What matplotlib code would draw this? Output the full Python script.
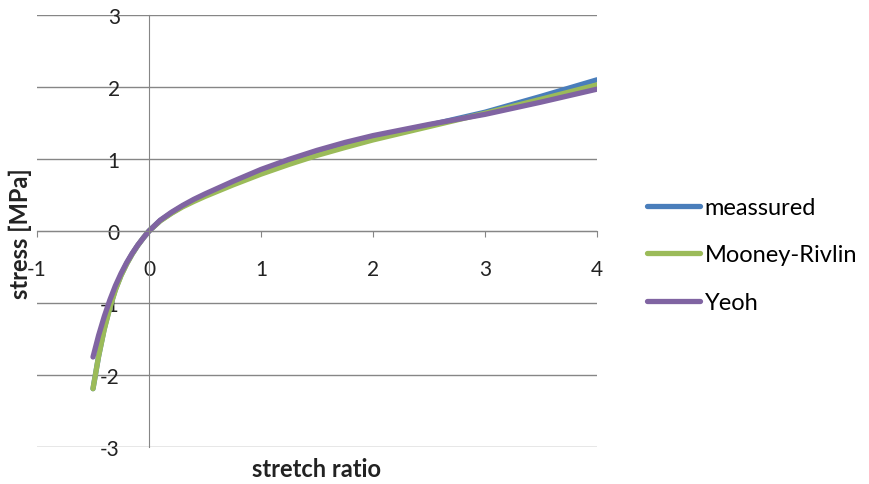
import matplotlib

matplotlib.use("Agg")
import matplotlib.pyplot as plt

plt.rcParams["font.family"] = ["Lato", "DejaVu Sans"]

# strain values (x)
strain = [-0.5, -0.45, -0.4, -0.35, -0.3, -0.25, -0.2, -0.15, -0.1, -0.05, 0.0,
          0.1, 0.2, 0.3, 0.4, 0.5, 0.75, 1.0, 1.25, 1.5, 1.75, 2.0, 2.5, 3.0, 3.5, 4.0]

measured = [-2.19, -1.74, -1.36, -1.06, -0.81, -0.615, -0.455, -0.318, -0.199, -0.095, 0.0,
            0.145, 0.25, 0.345, 0.425, 0.50, 0.665, 0.82, 0.96, 1.085, 1.195, 1.295,
            1.47, 1.65, 1.87, 2.10]
mooney_rivlin = [-2.19, -1.74, -1.37, -1.07, -0.82, -0.62, -0.46, -0.32, -0.20, -0.095, 0.0,
                 0.14, 0.245, 0.335, 0.41, 0.48, 0.64, 0.79, 0.925, 1.05, 1.16, 1.265,
                 1.45, 1.635, 1.83, 2.03]
yeoh = [-1.75, -1.45, -1.19, -0.96, -0.76, -0.59, -0.44, -0.31, -0.195, -0.095, 0.0,
        0.15, 0.26, 0.355, 0.44, 0.515, 0.69, 0.855, 0.995, 1.12, 1.23, 1.325,
        1.48, 1.62, 1.79, 1.97]

series_names = ["meassured", "Mooney-Rivlin", "Yeoh"]
series_colors = ["#4A7EBB", "#9BBB59", "#8064A2"]

x_ticks = [-1, 0, 1, 2, 3, 4]
y_ticks = [-3, -2, -1, 0, 1, 2, 3]

fig = plt.figure(figsize=(8.69, 4.85), dpi=100)
ax = fig.add_axes([37 / 869, 37 / 485, 560 / 869, 432 / 485])

for vals, name, col in zip([measured, mooney_rivlin, yeoh], series_names, series_colors):
    ax.plot(strain, vals, color=col, lw=3.8, label=name, solid_capstyle="round")

ax.set_xlim(-1, 4)
ax.set_ylim(-3, 3)
ax.set_xticks(x_ticks)
ax.set_yticks(y_ticks)
ax.set_xticklabels([str(t) for t in x_ticks])
ax.set_yticklabels([str(t) for t in y_ticks])

grid_col = "#868686"
ax.yaxis.grid(True, color=grid_col, lw=1.0)
for gl in ax.get_ygridlines():
    gl.set_clip_on(False)
ax.set_axisbelow(True)
for s in ["top", "right"]:
    ax.spines[s].set_visible(False)
ax.spines["left"].set_position(("data", 0))
ax.spines["bottom"].set_position(("data", 0))
ax.spines["left"].set_color(grid_col)
ax.spines["bottom"].set_color(grid_col)
ax.tick_params(axis="x", direction="out", length=4, color=grid_col, pad=16,
               labelsize=15, labelcolor="#222222")
ax.tick_params(axis="y", length=0, pad=21, labelsize=15, labelcolor="#222222")

fig.text(20 / 869, 1 - 234 / 485, "stress [MPa]", rotation=90, ha="center", va="center",
         fontsize=17, fontweight="bold", color="#222222")
fig.text(317 / 869, 1 - 470 / 485, "stretch ratio", ha="center", va="center",
         fontsize=17, fontweight="bold", color="#222222")

ax.legend(loc="center left", bbox_to_anchor=(647 / 869, 1 - 256 / 485),
          bbox_transform=fig.transFigure, frameon=False, fontsize=17,
          handlelength=2.25, handletextpad=0.2, labelspacing=1.12,
          borderaxespad=0, borderpad=0)

fig.savefig("out.png", dpi=100)
